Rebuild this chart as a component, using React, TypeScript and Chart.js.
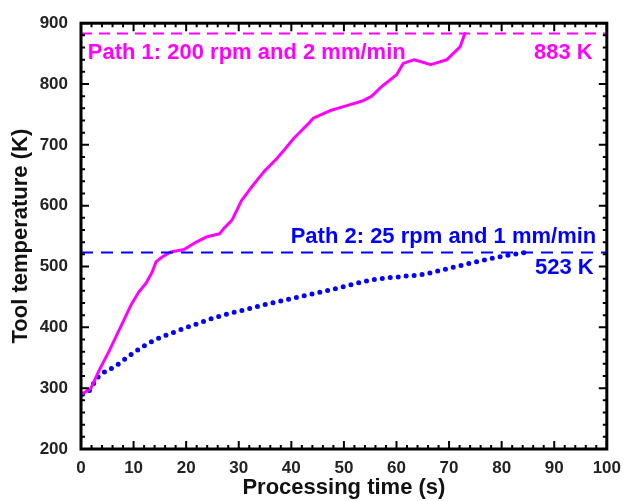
import React, { useEffect, useRef } from "react";
import { Chart, registerables } from "chart.js";

Chart.register(...registerables);

// Path 1: 200 rpm and 2 mm/min
const path1Time = [0.3, 1.9, 3.5, 5.3, 7.5, 9.6, 11, 12.4, 13.5, 14.3, 15.5, 17.1, 19.6, 22.1, 24, 26.4, 27.1, 28.7, 30.5, 32.3, 34.8, 37.3, 38.6, 40.4, 43.5, 44.2, 47.3, 50.4, 53.5, 55.3, 57.2, 60, 61.3, 63.4, 66.5, 69.6, 72.1, 73];
const path1Temp = [291, 300, 330, 360, 400, 438, 458, 473, 490, 508, 516, 524, 528, 541, 549, 554, 562, 576, 608, 629, 656, 678, 691, 710, 737, 744, 756, 764, 772, 780, 796, 815, 834, 840, 832, 840, 861, 883];

// Path 2: 25 rpm and 1 mm/min
const path2Time = [0.3, 1.5, 3.1, 6.5, 10.3, 14, 17.7, 22.1, 25.8, 30.2, 35.8, 42.9, 49.1, 55.3, 61.6, 65, 69, 75.3, 81.5, 84.5];
const path2Temp = [290, 295, 317, 336, 360, 379, 392, 406, 417, 427, 439, 453, 465, 478, 484, 487, 495, 508, 519, 523];

const path1Limit = 883;
const path2Limit = 523;
const xRange = [0, 100];
const yRange = [200, 900];

const FONT = "'Liberation Sans', Arial, sans-serif";
const MAGENTA = "#ff00ff";
const BLUE = "#0000ff";

const framePlugin = {
  id: "frame",
  afterDatasetsDraw(chart: any) {
    const { ctx, chartArea: a, scales } = chart;
    const xs = scales.x;
    const ys = scales.y;
    ctx.save();
    ctx.strokeStyle = "#000";
    ctx.lineWidth = 2;
    ctx.beginPath();
    for (let v = 0; v <= 100; v += 2) {
      const px = xs.getPixelForValue(v);
      const len = v % 10 === 0 ? 8 : 4;
      ctx.moveTo(px, a.bottom);
      ctx.lineTo(px, a.bottom - len);
      ctx.moveTo(px, a.top);
      ctx.lineTo(px, a.top + len);
    }
    for (let v = 200; v <= 900; v += 20) {
      const py = ys.getPixelForValue(v);
      const len = v % 100 === 0 ? 8 : 4;
      ctx.moveTo(a.left, py);
      ctx.lineTo(a.left + len, py);
      ctx.moveTo(a.right, py);
      ctx.lineTo(a.right - len, py);
    }
    ctx.stroke();
    ctx.lineWidth = 3;
    ctx.strokeRect(a.left, a.top, a.right - a.left, a.bottom - a.top);

    ctx.font = `bold 22px ${FONT}`;
    ctx.textBaseline = "middle";
    ctx.fillStyle = MAGENTA;
    ctx.textAlign = "left";
    ctx.fillText("Path 1: 200 rpm and 2 mm/min", xs.getPixelForValue(1.3), ys.getPixelForValue(851));
    ctx.textAlign = "right";
    ctx.fillText(`${path1Limit} K`, xs.getPixelForValue(97.3), ys.getPixelForValue(851));
    ctx.fillStyle = BLUE;
    ctx.fillText("Path 2: 25 rpm and 1 mm/min", xs.getPixelForValue(98), ys.getPixelForValue(549));
    ctx.fillText(`${path2Limit} K`, xs.getPixelForValue(97.5), ys.getPixelForValue(497));
    ctx.restore();
  },
};

export default function App() {
  const ref = useRef<HTMLCanvasElement>(null);
  useEffect(() => {
    const chart = new Chart(ref.current as HTMLCanvasElement, {
      type: "line",
      data: {
        datasets: [
          {
            data: [{ x: xRange[0], y: path1Limit }, { x: xRange[1], y: path1Limit }],
            borderColor: MAGENTA,
            borderWidth: 2,
            borderDash: [11, 7],
            pointRadius: 0,
          },
          {
            data: [{ x: xRange[0], y: path2Limit }, { x: xRange[1], y: path2Limit }],
            borderColor: BLUE,
            borderWidth: 2,
            borderDash: [12, 8],
            pointRadius: 0,
          },
          {
            data: path1Time.map((t, i) => ({ x: t, y: path1Temp[i] })),
            borderColor: MAGENTA,
            borderWidth: 3,
            pointRadius: 0,
            tension: 0,
            borderJoinStyle: "round",
            borderCapStyle: "round",
          },
          {
            data: path2Time.map((t, i) => ({ x: t, y: path2Temp[i] })),
            borderColor: BLUE,
            borderWidth: 5,
            borderDash: [0, 8],
            borderCapStyle: "round",
            cubicInterpolationMode: "monotone",
            pointRadius: 0,
          },
        ],
      },
      options: {
        animation: false,
        responsive: true,
        maintainAspectRatio: false,
        layout: { padding: { top: 16, right: 15, left: 0, bottom: 0 } },
        plugins: { legend: { display: false }, tooltip: { enabled: false } },
        scales: {
          x: {
            type: "linear",
            min: xRange[0],
            max: xRange[1],
            grid: { display: false, drawTicks: false },
            border: { display: false },
            ticks: { stepSize: 10, padding: 9, color: "#222", font: { family: FONT, size: 17, weight: "bold" } },
            title: {
              display: true,
              text: "Processing time (s)",
              color: "#111",
              font: { family: FONT, size: 22, weight: "bold" },
              padding: { top: 0, bottom: 0 },
            },
            afterFit: (s: any) => {
              s.height = 52;
            },
          },
          y: {
            min: yRange[0],
            max: yRange[1],
            grid: { display: false, drawTicks: false },
            border: { display: false },
            ticks: { stepSize: 100, padding: 13, color: "#222", font: { family: FONT, size: 17, weight: "bold" } },
            title: {
              display: true,
              text: "Tool temperature (K)",
              color: "#111",
              font: { family: FONT, size: 22, weight: "bold" },
              padding: { top: 8, bottom: 0 },
            },
            afterFit: (s: any) => {
              s.width = 81;
            },
          },
        },
      },
      plugins: [framePlugin],
    });
    return () => chart.destroy();
  }, []);
  return (
    <div style={{ position: "absolute", left: 0, top: 0, width: 630, height: 501, background: "#fff" }}>
      <canvas ref={ref} />
    </div>
  );
}
